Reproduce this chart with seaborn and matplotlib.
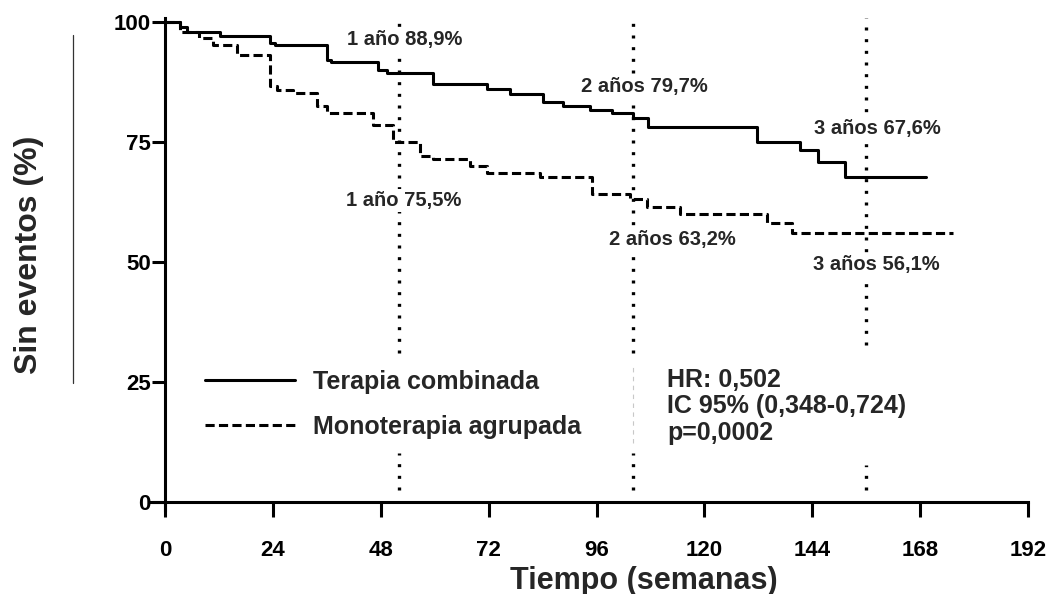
import numpy as np
import pandas as pd
import seaborn as sns
import matplotlib
matplotlib.use("Agg")
import matplotlib.pyplot as plt
from matplotlib.lines import Line2D

# ---------------- data ----------------
group_names = ["Terapia combinada", "Monoterapia agrupada"]

weeks_comb = [0, 3.3, 4.8, 12.2, 23.4, 24.5, 36.1, 36.8, 47.4, 49.4, 59.6, 71.7,
              76.8, 84.1, 88.6, 94.6, 99.5, 104.2, 107.5, 131.8, 141.3, 145.3,
              151.3, 169.2]
surv_comb = [100, 99.0, 98.0, 97.1, 95.6, 95.2, 92.1, 91.7, 90.0, 89.3, 87.1, 86.0,
             85.1, 83.4, 82.4, 81.7, 81.0, 79.9, 78.2, 75.1, 73.3, 70.9,
             67.8, 67.8]

weeks_mono = [0, 3.3, 7.6, 10.7, 16.0, 23.4, 24.9, 28.5, 33.8, 36.1, 46.3, 50.7,
              56.8, 59.6, 67.9, 71.7, 83.5, 95.0, 103.5, 107.3, 114.6, 134.0,
              139.5, 175.4]
surv_mono = [100, 98.0, 96.6, 95.2, 93.1, 86.7, 85.8, 85.3, 82.5, 81.0, 78.5, 75.0,
             72.1, 71.4, 70.0, 68.6, 67.8, 64.2, 63.2, 61.5, 60.0, 58.2,
             56.1, 56.1]

x_ticks = [0, 24, 48, 72, 96, 120, 144, 168, 192]
y_ticks = [0, 25, 50, 75, 100]

landmark_weeks = [52, 104, 156]
landmark_labels_top = ["1 año 88,9%", "2 años 79,7%", "3 años 67,6%"]
landmark_labels_bot = ["1 año 75,5%", "2 años 63,2%", "3 años 56,1%"]

stats_lines = ["HR: 0,502", "IC 95% (0,348-0,724)", "p=0,0002"]

x_label = "Tiempo (semanas)"
y_label = "Sin eventos (%)"

# ---------------- style ----------------
sns.set_style("ticks")
plt.rcParams["font.family"] = ["Liberation Sans", "DejaVu Sans"]
plt.rcParams["font.weight"] = "bold"
plt.rcParams["axes.labelweight"] = "bold"

W, H = 1054, 594
fig = plt.figure(figsize=(W / 100, H / 100), dpi=100)
ax = fig.add_axes([149 / W, 1 - 510 / H, (1028 - 149) / W, (510 - 18) / H])

df = pd.concat([
    pd.DataFrame({"week": weeks_comb, "surv": surv_comb, "grupo": group_names[0]}),
    pd.DataFrame({"week": weeks_mono, "surv": surv_mono, "grupo": group_names[1]}),
], ignore_index=True)

dash_pat = (3.0, 1.4)
sns.lineplot(data=df, x="week", y="surv", style="grupo",
             dashes={group_names[0]: "", group_names[1]: dash_pat},
             color="black", linewidth=2.2, estimator=None, sort=False,
             drawstyle="steps-post", legend=False, ax=ax, zorder=3)

# landmark dotted vertical lines (segments)
seg_main = [[(31.0, 100.8), (2.5, 10.2)],
            [(31.0, 100.8), (2.5, 10.2)],
            [(32.7, 100.8), (2.5, 7.7)]]
for wk, segs in zip(landmark_weeks, seg_main):
    for lo, hi in segs:
        ax.vlines(wk, lo, hi, colors="black", linewidth=2.4,
                  linestyles=[(0, (0.9, 2.6))], zorder=2)
ax.vlines(landmark_weeks[1], 12.2, 28.9, colors="#c8c8c8", linewidth=0.8,
          linestyles=[(0, (4, 4))], zorder=2)

# landmark annotations
top_pos = [(53.4, 96.25), (106.6, 86.5), (158.5, 77.9)]
bot_pos = [(53.0, 62.9), (112.8, 54.6), (158.3, 49.4)]
bb = dict(facecolor="white", edgecolor="none", pad=1.5)
for (x, y), t in zip(top_pos, landmark_labels_top):
    ax.text(x, y, t, ha="center", va="center", fontsize=14.5, fontweight="bold",
            bbox=bb, zorder=5)
for (x, y), t in zip(bot_pos, landmark_labels_bot):
    ax.text(x, y, t, ha="center", va="center", fontsize=14.5, fontweight="bold",
            bbox=bb, zorder=5)

# stats text
ax.text(111.7, 28.0, "\n".join(stats_lines), ha="left", va="top", fontsize=18,
        fontweight="bold", linespacing=1.15, zorder=5)

# legend
handles = [Line2D([], [], color="black", linewidth=2.2, linestyle="-"),
           Line2D([], [], color="black", linewidth=2.2, linestyle=(0, dash_pat))]
leg = ax.legend(handles, group_names, loc="upper left",
                bbox_to_anchor=((205 - 149) / 879, (510 - 370) / 492),
                frameon=False, fontsize=18, handlelength=3.6,
                handletextpad=0.72, labelspacing=0.84, borderpad=0,
                borderaxespad=0)
for t in leg.get_texts():
    t.set_fontweight("bold")

# axes
ax.set_xlim(-3.6, 192)
ax.set_ylim(-1.67, 100.83)
ax.spines["left"].set_position(("data", 0))
ax.spines["bottom"].set_position(("data", 0))
ax.spines["top"].set_visible(False)
ax.spines["right"].set_visible(False)
for s in ["left", "bottom"]:
    ax.spines[s].set_linewidth(2.2)
    ax.spines[s].set_color("black")
ax.set_xticks(x_ticks)
ax.set_yticks(y_ticks)
ax.set_xticklabels([str(v) for v in x_ticks], fontweight="bold")
ax.set_yticklabels([str(v) for v in y_ticks], fontweight="bold")
ax.tick_params(axis="x", direction="out", length=10.8, width=2.2, pad=16.5,
               labelsize=16, color="black", labelcolor="black")
ax.tick_params(axis="y", direction="out", length=9.5, width=2.2, pad=1.0,
               labelsize=16, color="black", labelcolor="black")

ax.set_xlabel(x_label, fontsize=22, fontweight="bold")
ax.set_ylabel(y_label, fontsize=23, fontweight="bold")
ax.xaxis.set_label_coords((644 - 149) / 879, (510 - 566) / 492)
ax.yaxis.set_label_coords((44 - 149) / 879, (510 - 255) / 492)

# thin vertical line beside the y label
fig.add_artist(Line2D([73 / W, 73 / W], [1 - 35 / H, 1 - 383 / H],
                      transform=fig.transFigure, color="#333333", linewidth=0.9))

fig.savefig("out.png", dpi=100, facecolor="white")
